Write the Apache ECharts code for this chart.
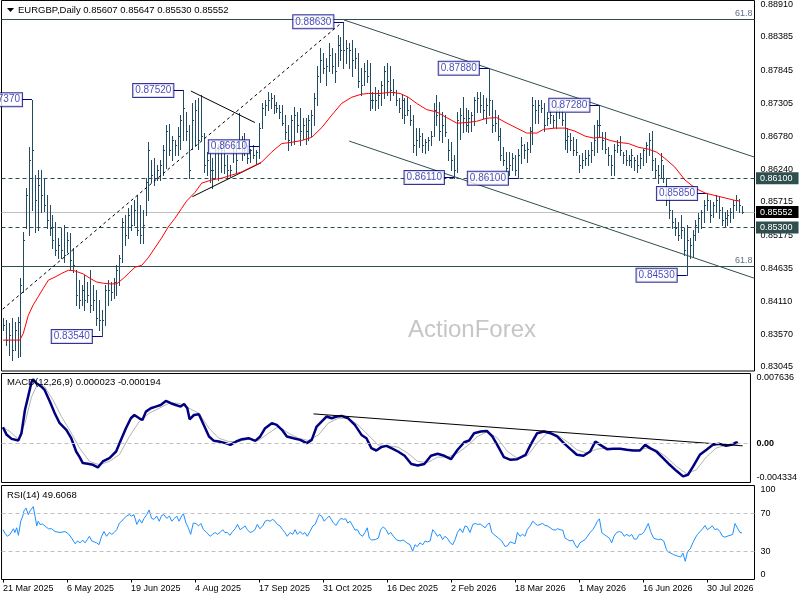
<!DOCTYPE html>
<html><head><meta charset="utf-8">
<script src="https://cdn.jsdelivr.net/npm/echarts@6/dist/echarts.min.js"></script>
<style>html,body{margin:0;padding:0;background:#fff}#c{width:800px;height:600px}</style>
</head><body><div id="c"></div>
<script>
// ---------- DATA ----------
const symbolTitle = 'EURGBP,Daily';
const headerQuote = ['0.85607', '0.85647', '0.85530', '0.85552'];
const macdTitle = 'MACD(12,26,9) 0.000023 -0.000194';
const rsiTitle = 'RSI(14) 49.6068';
const watermark = 'ActionForex';

const highs = [
0.8384,0.8380,0.8375,0.8384,0.8377,0.8385,0.8448,0.8523,0.8594,0.8660,
0.8737,0.8615,0.8623,0.8623,0.8610,0.8582,0.8566,0.8550,0.8539,0.8513,
0.8529,0.8534,0.8523,0.8521,0.8497,0.8461,0.8445,0.8437,0.8453,0.8442,
0.8461,0.8437,0.8429,0.8413,0.8397,0.8437,0.8445,0.8442,0.8448,0.8469,
0.8485,0.8545,0.8550,0.8561,0.8566,0.8574,0.8582,0.8566,0.8558,0.8610,
0.8668,0.8639,0.8642,0.8631,0.8639,0.8663,0.8696,0.8697,0.8679,0.8671,
0.8692,0.8712,0.8752,0.8717,0.8696,0.8731,0.8736,0.8739,0.8744,0.8683,
0.8652,0.8652,0.8642,0.8668,0.8666,0.8670,0.8671,0.8647,0.8631,0.8671,
0.8668,0.8715,0.8679,0.8683,0.8663,0.8658,0.8663,0.8655,0.8700,0.8731,
0.8736,0.8749,0.8747,0.8744,0.8733,0.8728,0.8728,0.8712,0.8696,0.8712,
0.8725,0.8717,0.8723,0.8708,0.8708,0.8712,0.8720,0.8747,0.8792,0.8820,
0.8813,0.8804,0.8828,0.8820,0.8813,0.8841,0.8838,0.8863,0.8833,0.8828,
0.8833,0.8820,0.8813,0.8788,0.8797,0.8801,0.8797,0.8749,0.8757,0.8752,
0.8768,0.8792,0.8796,0.8792,0.8771,0.8752,0.8739,0.8744,0.8739,0.8741,
0.8728,0.8712,0.8691,0.8691,0.8683,0.8674,0.8676,0.8687,0.8731,0.8744,
0.8733,0.8717,0.8712,0.8674,0.8668,0.8647,0.8717,0.8723,0.8741,0.8723,
0.8720,0.8717,0.8741,0.8749,0.8749,0.8744,0.8739,0.8788,0.8736,0.8720,
0.8712,0.8691,0.8660,0.8652,0.8652,0.8650,0.8647,0.8658,0.8676,0.8666,
0.8668,0.8692,0.8741,0.8736,0.8736,0.8736,0.8731,0.8717,0.8720,0.8712,
0.8736,0.8733,0.8720,0.8715,0.8691,0.8683,0.8676,0.8674,0.8647,0.8650,
0.8655,0.8655,0.8668,0.8696,0.8704,0.8728,0.8684,0.8684,0.8660,0.8647,
0.8666,0.8671,0.8679,0.8652,0.8655,0.8647,0.8658,0.8644,0.8647,0.8650,
0.8658,0.8668,0.8683,0.8687,0.8642,0.8631,0.8650,0.8631,0.8610,0.8582,
0.8558,0.8545,0.8539,0.8550,0.8529,0.8534,0.8513,0.8526,0.8542,0.8553,
0.8558,0.8574,0.8585,0.8574,0.8571,0.8582,0.8579,0.8563,0.8555,0.8558,
0.8561,0.8574,0.8582,0.8577,0.85647];

const lows = [
0.8364,0.8340,0.8324,0.8316,0.8332,0.8321,0.8322,0.8426,0.8529,0.8518,
0.8558,0.8523,0.8526,0.8555,0.8557,0.8529,0.8518,0.8497,0.8485,0.8481,
0.8481,0.8474,0.8490,0.8461,0.8458,0.8405,0.8400,0.8405,0.8397,0.8409,
0.8393,0.8397,0.8372,0.8364,0.8354,0.8372,0.8405,0.8413,0.8416,0.8421,
0.8437,0.8474,0.8502,0.8513,0.8526,0.8534,0.8518,0.8505,0.8505,0.8550,
0.8574,0.8603,0.8599,0.8607,0.8607,0.8615,0.8626,0.8647,0.8639,0.8647,
0.8647,0.8658,0.8671,0.8671,0.8610,0.8658,0.8663,0.8658,0.8671,0.8620,
0.8615,0.8603,0.8594,0.8610,0.8607,0.8620,0.8618,0.8610,0.8613,0.8636,
0.8620,0.8658,0.8639,0.8647,0.8634,0.8636,0.8642,0.8634,0.8642,0.8691,
0.8712,0.8720,0.8723,0.8715,0.8717,0.8707,0.8696,0.8674,0.8655,0.8663,
0.8666,0.8684,0.8663,0.8674,0.8666,0.8671,0.8679,0.8696,0.8728,0.8765,
0.8780,0.8760,0.8784,0.8780,0.8765,0.8792,0.8801,0.8789,0.8797,0.8789,
0.8776,0.8788,0.8757,0.8744,0.8760,0.8765,0.8720,0.8723,0.8720,0.8723,
0.8728,0.8739,0.8744,0.8736,0.8744,0.8728,0.8717,0.8707,0.8700,0.8712,
0.8696,0.8652,0.8647,0.8660,0.8652,0.8650,0.8655,0.8663,0.8679,0.8696,
0.8671,0.8668,0.8679,0.8639,0.8623,0.8611,0.8620,0.8674,0.8684,0.8687,
0.8684,0.8687,0.8696,0.8717,0.8717,0.8707,0.8700,0.8712,0.8684,0.8687,
0.8671,0.8639,0.8631,0.8620,0.8615,0.8623,0.8615,0.8610,0.8634,0.8642,
0.8636,0.8652,0.8666,0.8699,0.8700,0.8717,0.8687,0.8696,0.8700,0.8692,
0.8691,0.8707,0.8696,0.8658,0.8652,0.8655,0.8647,0.8647,0.8620,0.8626,
0.8631,0.8631,0.8636,0.8647,0.8652,0.8679,0.8658,0.8650,0.8631,0.8615,
0.8615,0.8652,0.8647,0.8634,0.8631,0.8631,0.8628,0.8623,0.8620,0.8626,
0.8631,0.8636,0.8647,0.8623,0.8610,0.8602,0.8610,0.8603,0.8566,0.8545,
0.8529,0.8518,0.8510,0.8513,0.8485,0.8453,0.8481,0.8482,0.8510,0.8523,
0.8529,0.8539,0.8558,0.8539,0.8547,0.8555,0.8545,0.8534,0.8532,0.8534,
0.8539,0.8545,0.8558,0.8555,0.85530];

const closes = [
0.8372,0.8348,0.8356,0.8332,0.8364,0.8377,0.8437,0.8510,0.8582,0.8639,
0.8655,0.8574,0.8599,0.8582,0.8566,0.8542,0.8529,0.8510,0.8494,0.8502,
0.8494,0.8485,0.8510,0.8477,0.8469,0.8421,0.8413,0.8429,0.8413,0.8421,
0.8405,0.8413,0.8384,0.8380,0.8380,0.8429,0.8429,0.8426,0.8442,0.8461,
0.8481,0.8539,0.8518,0.8550,0.8534,0.8558,0.8526,0.8518,0.8534,0.8603,
0.8655,0.8615,0.8610,0.8623,0.8631,0.8655,0.8687,0.8655,0.8671,0.8663,
0.8679,0.8704,0.8723,0.8687,0.8623,0.8704,0.8720,0.8671,0.8679,0.8631,
0.8639,0.8623,0.8623,0.8655,0.8658,0.8655,0.8631,0.8623,0.8623,0.8663,
0.8639,0.8671,0.8663,0.8655,0.8642,0.8655,0.8647,0.8652,0.8691,0.8723,
0.8728,0.8736,0.8739,0.8728,0.8723,0.8717,0.8700,0.8684,0.8671,0.8704,
0.8712,0.8696,0.8687,0.8696,0.8687,0.8704,0.8712,0.8739,0.8776,0.8801,
0.8788,0.8792,0.8809,0.8792,0.8784,0.8825,0.8817,0.8817,0.8820,0.8817,
0.8801,0.8804,0.8768,0.8760,0.8784,0.8776,0.8736,0.8736,0.8736,0.8744,
0.8760,0.8784,0.8768,0.8752,0.8749,0.8736,0.8723,0.8736,0.8712,0.8720,
0.8704,0.8663,0.8671,0.8679,0.8663,0.8668,0.8671,0.8679,0.8720,0.8712,
0.8687,0.8696,0.8684,0.8655,0.8639,0.8623,0.8704,0.8712,0.8707,0.8696,
0.8707,0.8712,0.8736,0.8739,0.8728,0.8720,0.8728,0.8736,0.8696,0.8700,
0.8679,0.8647,0.8639,0.8626,0.8631,0.8642,0.8623,0.8647,0.8663,0.8655,
0.8658,0.8687,0.8728,0.8720,0.8728,0.8723,0.8696,0.8707,0.8712,0.8704,
0.8720,0.8723,0.8704,0.8671,0.8679,0.8671,0.8655,0.8652,0.8631,0.8639,
0.8642,0.8647,0.8655,0.8671,0.8696,0.8696,0.8671,0.8658,0.8647,0.8631,
0.8655,0.8663,0.8655,0.8647,0.8639,0.8639,0.8647,0.8639,0.8631,0.8642,
0.8655,0.8663,0.8671,0.8639,0.8623,0.8615,0.8639,0.8610,0.8574,0.8558,
0.8539,0.8529,0.8518,0.8526,0.8494,0.8510,0.8502,0.8518,0.8534,0.8545,
0.8555,0.8566,0.8574,0.8550,0.8566,0.8574,0.8558,0.8542,0.8545,0.8550,
0.8555,0.8566,0.8574,0.8566,0.85552];

// moving average (red), [bar index, price]
const maPoints = [[0,0.8348],[5.8,0.8348],[7,0.8359],[8.7,0.8388],[10.4,0.8405],[12.1,0.8418],[13.9,0.8432],[15.6,0.8445],[17.9,0.8450],[20.2,0.8456],[22.5,0.8461],[24.7,0.8460],[27.6,0.8455],[29.9,0.8448],[32.2,0.8442],[34.5,0.8440],[36.8,0.8439],[39.1,0.8439],[41.4,0.8448],[43.6,0.8458],[45.4,0.8466],[47.7,0.8469],[49.9,0.8481],[52.2,0.8497],[54.5,0.8513],[56.8,0.8531],[59.1,0.8545],[61.4,0.8561],[63.1,0.8573],[66.0,0.8587],[68.3,0.8602],[71.7,0.8607],[75.2,0.8610],[78.6,0.8615],[82.0,0.8620],[85.5,0.8628],[88.9,0.8636],[92.3,0.8652],[95.8,0.8666],[99.2,0.8668],[102.7,0.8671],[106.1,0.8676],[109.6,0.8692],[113.0,0.8712],[116.4,0.8731],[119.9,0.8741],[123.3,0.8746],[125.6,0.8747],[129.6,0.8747],[133.0,0.8749],[136.5,0.8747],[139.3,0.8741],[142.2,0.8731],[145.6,0.8721],[149.1,0.8717],[152.5,0.8708],[156.0,0.8699],[159.4,0.8700],[162.8,0.8702],[166.3,0.8707],[169.7,0.8708],[173.2,0.8699],[176.6,0.8691],[180.0,0.8683],[183.5,0.8683],[185.8,0.8689],[189.8,0.8691],[193.2,0.8691],[196.6,0.8686],[200.1,0.8678],[202.9,0.8675],[205.8,0.8676],[208.7,0.8671],[211.5,0.8668],[215.0,0.8666],[218.4,0.8660],[221.8,0.8657],[224.7,0.8652],[227.5,0.8642],[230.9,0.8628],[234.4,0.8607],[237.9,0.8594],[241.3,0.8586],[244.7,0.8582],[248.2,0.8578],[251.6,0.8574],[253.3,0.8573]];

const macdMain = [[0,0.00174],[1.3,0.00090],[3.0,0.00046],[5.3,0.00028],[6.4,0.00108],[7.6,0.00363],[8.7,0.00510],[9.9,0.00674],[10.4,0.00699],[11.6,0.00656],[13.3,0.00619],[14.4,0.00583],[16.2,0.00455],[17.9,0.00327],[19.6,0.00218],[21.9,0.00145],[23.6,0.00053],[25.3,-0.00093],[26.5,-0.00155],[27.6,-0.00220],[29.3,-0.00228],[31.1,-0.00239],[32.8,-0.00268],[34.5,-0.00202],[36.8,-0.00166],[39.1,-0.00093],[40.8,0.00035],[42.5,0.00163],[44.2,0.00272],[45.4,0.00308],[47.1,0.00272],[48.2,0.00254],[49.4,0.00345],[51.1,0.00382],[52.8,0.00400],[54.5,0.00418],[56.3,0.00462],[58.0,0.00437],[59.7,0.00418],[61.4,0.00400],[62.6,0.00429],[63.7,0.00382],[64.5,0.00261],[66.0,0.00308],[67.7,0.00316],[69.4,0.00199],[71.2,0.00072],[72.9,0.00024],[74.6,0.00017],[76.9,-0.00001],[78.6,-0.00020],[80.6,0.00017],[82.6,0.00042],[84.9,0.00053],[87.2,0.00024],[88.9,0.00072],[90.6,0.00163],[92.9,0.00218],[94.6,0.00199],[96.4,0.00145],[98.1,0.00072],[100.4,0.00053],[102.7,0.00035],[105.0,-0.00001],[106.7,0.00035],[108.4,0.00181],[110.1,0.00236],[111.8,0.00291],[113.6,0.00272],[115.3,0.00291],[117.0,0.00298],[119.3,0.00272],[121.6,0.00199],[123.9,0.00089],[125.6,0.00053],[127.3,-0.00056],[129.0,-0.00082],[130.7,-0.00045],[132.5,-0.00031],[134.2,-0.00056],[136.5,-0.00093],[138.8,-0.00140],[141.1,-0.00231],[143.3,-0.00246],[145.6,-0.00231],[147.9,-0.00140],[150.2,-0.00118],[152.5,-0.00140],[154.8,-0.00177],[157.1,-0.00074],[159.4,0.00009],[161.1,0.00028],[162.8,0.00108],[165.1,0.00126],[167.2,0.00133],[169.1,0.00072],[170.8,-0.00020],[173.1,-0.00155],[175.4,-0.00184],[177.7,-0.00177],[180.6,-0.00129],[182.3,-0.00020],[184.6,0.00108],[186.9,0.00126],[189.2,0.00108],[191.5,0.00072],[193.8,-0.00001],[196.1,-0.00067],[198.3,-0.00129],[200.6,-0.00140],[202.9,-0.00093],[204.7,0.00017],[206.4,-0.00020],[208.7,-0.00067],[211.0,-0.00064],[213.3,-0.00064],[215.5,-0.00074],[217.8,-0.00082],[220.1,-0.00082],[221.9,-0.00020],[223.6,-0.00056],[225.8,-0.00093],[228.1,-0.00166],[230.4,-0.00239],[232.7,-0.00305],[235.0,-0.00366],[236.7,-0.00348],[238.5,-0.00257],[240.8,-0.00129],[243.1,-0.00074],[245.3,-0.00020],[247.6,-0.00009],[249.9,-0.00031],[251.6,-0.00020],[253.4,0.00006],[254,0.00002]];

const macdSignal = [[0,0.00174],[2.4,0.00126],[5.3,0.00042],[7.6,0.00218],[9.9,0.00510],[12.1,0.00656],[14.4,0.00619],[17.3,0.00473],[20.2,0.00291],[23.0,0.00145],[26.5,-0.00056],[29.9,-0.00202],[33.3,-0.00239],[36.8,-0.00202],[40.2,-0.00129],[43.7,0.00072],[47.1,0.00235],[50.5,0.00327],[54.0,0.00382],[57.4,0.00437],[60.8,0.00437],[64.3,0.00382],[67.7,0.00327],[71.2,0.00163],[74.6,0.00053],[78.0,0.00017],[81.5,0.00017],[84.9,0.00042],[88.3,0.00028],[91.8,0.00108],[95.2,0.00181],[98.7,0.00108],[102.1,0.00053],[105.5,0.00028],[109.0,0.00089],[112.4,0.00218],[115.9,0.00272],[119.3,0.00272],[122.7,0.00199],[126.2,0.00089],[129.6,-0.00020],[133.0,-0.00031],[136.5,-0.00045],[139.9,-0.00111],[143.3,-0.00202],[146.8,-0.00213],[150.2,-0.00155],[153.7,-0.00155],[157.1,-0.00111],[160.5,-0.00031],[164.0,0.00072],[167.4,0.00126],[170.9,0.00053],[174.3,-0.00093],[177.7,-0.00166],[181.2,-0.00140],[184.6,-0.00001],[188.1,0.00108],[191.5,0.00089],[194.9,0.00017],[198.3,-0.00074],[201.8,-0.00111],[205.2,-0.00067],[208.7,-0.00056],[212.1,-0.00064],[215.5,-0.00067],[219.0,-0.00082],[222.4,-0.00056],[225.8,-0.00074],[229.3,-0.00155],[232.7,-0.00257],[236.2,-0.00337],[239.6,-0.00294],[243.0,-0.00155],[246.4,-0.00056],[249.9,-0.00020],[253.3,-0.00020],[254,-0.00019]];

const rsiPoints = [[0,53],[0.7,49],[1.5,46],[2.4,48],[3.0,46],[3.6,54],[4.1,50],[4.7,55],[5.3,47],[6.1,62],[6.8,67.5],[7.2,73],[7.9,76],[8.7,69],[9.3,73],[9.9,75],[10.4,77.5],[11.0,67.5],[11.6,57],[12.1,62],[12.7,58.6],[13.6,59],[14.4,57],[15.6,54],[16.7,54],[17.9,51],[19.6,50],[21.3,51],[22.5,48.6],[23.6,44],[24.8,38],[25.6,41],[26.5,39],[27.4,42],[28.2,39],[29.0,42.5],[29.7,46],[30.5,41],[31.3,40],[32.2,39],[33.0,37],[33.9,46],[34.7,51],[35.6,46],[36.6,50],[37.4,48],[38.2,50],[39.1,53],[40.0,60],[40.8,62],[41.6,65],[42.5,67.5],[43.4,69],[44.2,67.5],[45.0,69],[46.0,58.6],[46.9,64],[47.7,60],[48.5,65],[49.4,69],[50.2,74],[51.1,65],[51.9,64],[52.8,67.5],[53.7,62],[54.5,68],[55.3,69],[56.3,65],[57.2,67.5],[58.0,62],[58.8,64.6],[59.7,67.5],[60.5,62],[61.4,67.5],[62.0,70],[62.9,60],[63.7,55],[64.5,48],[65.4,60],[66.3,59.6],[67.2,57],[68.0,59.6],[68.9,53],[70.0,50],[71.2,46],[72.0,48],[72.9,50],[73.7,48],[74.6,50],[75.5,53],[76.3,50],[77.1,50],[78.0,47],[78.9,51],[79.8,54],[80.6,58.6],[81.5,53],[82.4,55],[83.2,57],[84.0,53],[84.9,50],[85.8,51],[86.6,53],[87.4,58.6],[88.3,54],[89.3,57],[90.1,62],[90.9,63],[91.8,62],[92.7,64],[93.5,62],[94.3,58.6],[95.2,57],[96.1,53],[96.9,50],[97.7,46],[98.7,50],[99.6,48],[100.4,53],[101.2,48],[102.1,51],[103.0,48],[103.8,50],[104.6,46],[105.5,51],[106.5,57],[107.3,58.6],[108.1,65],[108.7,69],[109.5,67.5],[110.4,62],[111.3,65],[112.1,67.5],[112.8,64],[113.6,60],[114.5,57.5],[115.3,62],[116.1,65],[117.0,64],[117.8,64.6],[118.5,60],[119.3,62],[120.2,57],[121.0,52.5],[121.8,53],[122.7,48],[123.6,46],[124.4,50],[125.2,55],[125.9,44],[126.7,42],[127.9,42.5],[129.0,44],[129.8,53],[130.7,56],[131.7,53],[132.5,48],[133.3,50],[134.2,46],[135.3,42],[136.5,41],[137.6,42],[138.8,39],[139.9,37],[140.8,30],[141.6,37],[142.4,35],[143.3,39],[144.3,37],[145.1,41],[145.9,40],[146.8,41],[147.7,53],[148.5,50],[149.3,46],[150.2,48],[151.1,42.5],[151.9,46],[152.7,44],[153.7,39],[154.6,37],[155.4,42.5],[156.2,50],[157.1,54],[158.0,50],[158.8,57],[159.6,56],[160.5,50],[161.5,58.6],[162.3,59.6],[163.1,58.6],[164.0,59],[164.9,57],[165.7,55],[166.5,58.6],[167.2,60],[168.0,50],[169.1,47],[170.3,44],[171.4,41],[172.6,35],[173.4,36],[174.3,40],[175.2,39],[176.0,38],[176.8,50],[177.7,46],[178.6,48],[179.4,46],[180.2,53],[181.2,57],[182.1,62],[182.9,59.6],[183.7,57.5],[184.6,58.6],[185.5,59.6],[186.3,57.5],[187.1,57],[188.1,55],[189.0,53],[189.8,52.5],[190.6,54],[191.5,53],[192.4,52.5],[193.2,44],[194.0,42.5],[194.9,41],[195.8,42],[196.6,37],[197.4,33.6],[198.3,39],[199.3,41],[200.1,42.5],[200.9,46],[201.8,50],[202.7,53],[203.5,57],[204.3,62],[205.0,64.6],[205.8,50],[206.6,48],[207.5,46],[208.4,44],[209.2,39],[210.0,46],[210.9,50],[211.9,51],[212.7,50],[213.5,46],[214.4,48],[215.3,46],[216.1,48],[216.9,43],[217.8,43],[218.7,48],[219.5,48],[220.4,51],[221.0,53],[221.8,59.6],[222.6,51],[223.6,44],[224.5,43],[225.3,42.5],[226.1,43],[227.1,41],[228.0,32],[228.7,29],[229.6,28],[230.5,26.4],[231.4,25.4],[232.2,24.6],[233.0,24],[233.7,28],[234.5,19.3],[235.3,30],[236.2,32.5],[237.1,39],[237.9,44],[238.7,48],[239.6,51],[240.5,54],[241.3,57.5],[242.1,53],[243.0,55],[243.8,57],[244.7,53],[245.5,54],[246.4,51],[247.3,46],[248.1,45],[248.9,46],[249.9,47],[250.8,48],[251.6,59.6],[252.4,55],[253.3,50],[254,49.6]];

// axis ticks
const priceTicks = [0.88910,0.88385,0.87845,0.87305,0.86780,0.86240,0.85715,0.85175,0.84635,0.84110,0.83570,0.83045];
const macdTicks = [-0.004334, 0, 0.007636];
const rsiTicks = [0, 30, 70, 100];
const dateLabels = ['21 Mar 2025','6 May 2025','19 Jun 2025','4 Aug 2025','17 Sep 2025','31 Oct 2025','16 Dec 2025','2 Feb 2026','18 Mar 2026','1 May 2026','16 Jun 2026','30 Jul 2026'];
const dateLabelIndex = [0,22,44,66,88,110,132,154,176,198,220,242];

// price annotations [bar index, price, text]
const annotations = [[10,0.8737,'0.87370'],[34,0.8354,'0.83540'],[62,0.8752,'0.87520'],[88,0.8661,'0.86610'],[117,0.8863,'0.88630'],[155,0.8611,'0.86110'],[167,0.8788,'0.87880'],[177,0.8610,'0.86100'],[205,0.8728,'0.87280'],[235,0.8453,'0.84530'],[242,0.8585,'0.85850']];

// horizontal levels
const fibLevels = [0.88679, 0.84676];
const dashedLevels = [0.8610, 0.8530];
const lastPrice = 0.85552;

// trend lines [[index, price], [index, price]]
const channelUpper = [[117.2,0.8866],[258.3,0.8644]];
const channelLower = [[119.0,0.8670],[258.3,0.8448]];
const risingLine = [[-0.1,0.8398],[116.5,0.8862]];
const triangleUpper = [[64.6,0.8751],[86.6,0.8700]];
const triangleLower = [[65.1,0.8580],[88.7,0.8635]];
const macdTrend = [[107.3,0.00320],[255.6,-0.00031]];

// ---------- CHART ----------
const FONT = 'Liberation Sans, Arial, sans-serif';
const barColor = '#214c63';
const X_MIN = -0.5, X_MAX = 258.3;
const GL = 1.5, GW = 753;
const pxPerBar = GW / (X_MAX - X_MIN);
const LABEL_DIST = 10;

const chart = echarts.init(document.getElementById('c'), null, {renderer: 'canvas'});

function xAxisCfg(idx, showLabels) {
  return {
    type: 'value', gridIndex: idx, min: X_MIN, max: X_MAX,
    axisLine: {show: false}, splitLine: {show: false},
    axisTick: showLabels ? {show: true, customValues: dateLabelIndex, length: 3, lineStyle: {color: '#000'}} : {show: false},
    axisLabel: showLabels ? {
      show: true, customValues: dateLabelIndex, align: 'left', margin: 5,
      fontSize: 9, fontFamily: FONT, color: '#000',
      formatter: v => dateLabels[dateLabelIndex.indexOf(Math.round(v))] || ''
    } : {show: false}
  };
}

function renderBar(params, api) {
  const i = api.value(0);
  const hi = api.coord([i, api.value(1)]);
  const lo = api.coord([i, api.value(2)]);
  const cl = api.coord([i, api.value(3)]);
  const x = Math.round(hi[0]) + 0.5;
  const yc = Math.round(cl[1]) + 0.5;
  return {
    type: 'group',
    children: [
      {type: 'line', shape: {x1: x, y1: Math.round(hi[1]), x2: x, y2: Math.round(lo[1]) + 1}, style: {stroke: barColor, lineWidth: 1}},
      {type: 'line', shape: {x1: x, y1: yc, x2: x + 1.5, y2: yc}, style: {stroke: barColor, lineWidth: 1}}
    ]
  };
}

function seg(points, color, width, type, xi, yi) {
  return {
    type: 'line', xAxisIndex: xi || 0, yAxisIndex: yi || 0, data: points, showSymbol: false, silent: true,
    lineStyle: {color: color, width: width, type: type || 'solid'}, z: 4, animation: false
  };
}

const boxLabel = (txt, bg) => ({
  show: true, position: 'end', distance: 1.5, formatter: txt,
  backgroundColor: bg, color: '#fff', fontSize: 9, fontFamily: FONT,
  padding: [2, 6, 1, 4]
});

const option = {
  animation: false,
  backgroundColor: '#fff',
  grid: [
    {left: GL, top: 0, width: GW, height: 371, show: true, borderColor: '#000', borderWidth: 1, backgroundColor: 'transparent'},
    {left: GL, top: 373.5, width: GW, height: 109, show: true, borderColor: '#000', borderWidth: 1, backgroundColor: 'transparent'},
    {left: GL, top: 485.5, width: GW, height: 94, show: true, borderColor: '#000', borderWidth: 1, backgroundColor: 'transparent'}
  ],
  xAxis: [xAxisCfg(0, false), xAxisCfg(1, false), xAxisCfg(2, true)],
  yAxis: [
    {type: 'value', gridIndex: 0, position: 'right', min: 0.82980, max: 0.88975,
     axisLine: {show: false}, axisTick: {show: false}, splitLine: {show: false},
     axisLabel: {customValues: priceTicks, formatter: v => v.toFixed(5), fontSize: 9, fontFamily: FONT, color: '#000', margin: 6}},
    {type: 'value', gridIndex: 1, position: 'right', min: -0.004334, max: 0.007636,
     axisLine: {show: false}, axisTick: {show: false}, splitLine: {show: false},
     axisLabel: {customValues: macdTicks, formatter: v => (Math.abs(v) < 1e-9 ? '{b|0.00}' : v.toFixed(6)),
       rich: {b: {fontWeight: 'bold', fontSize: 9, fontFamily: FONT, color: '#000'}},
       verticalAlignMaxLabel: 'top', verticalAlignMinLabel: 'bottom',
       fontSize: 9, fontFamily: FONT, color: '#000', margin: 6}},
    {type: 'value', gridIndex: 2, position: 'right', min: 0, max: 100,
     axisLine: {show: false}, axisTick: {show: false}, splitLine: {show: false},
     axisLabel: {customValues: rsiTicks, formatter: v => String(v),
       verticalAlignMaxLabel: 'top', verticalAlignMinLabel: 'bottom',
       fontSize: 9, fontFamily: FONT, color: '#000', margin: 6}}
  ],
  graphic: [
    {type: 'text', left: 408, top: 318, z: 0, silent: true,
     style: {text: watermark, font: '24px ' + FONT, fill: '#c6c6c6'}},
    {type: 'polygon', z: 100, silent: true, shape: {points: [[7, 8], [14, 8], [10.5, 12]]}, style: {fill: '#000'}},
    {type: 'text', left: 18, top: 5, z: 100, silent: true,
     style: {text: symbolTitle + ' ' + headerQuote.join(' '), font: '9.5px ' + FONT, fill: '#000'}},
    {type: 'text', left: 7, top: 377, z: 100, silent: true,
     style: {text: macdTitle, font: '9.5px ' + FONT, fill: '#000'}},
    {type: 'text', left: 7, top: 490, z: 100, silent: true,
     style: {text: rsiTitle, font: '9.5px ' + FONT, fill: '#000'}}
  ],
  series: [
    {
      type: 'custom', xAxisIndex: 0, yAxisIndex: 0, silent: true, z: 2, clip: true,
      renderItem: renderBar,
      encode: {x: 0, y: [1, 2, 3]},
      data: highs.map((h, i) => [i, h, lows[i], closes[i]])
    },
    {
      type: 'line', xAxisIndex: 0, yAxisIndex: 0, data: maPoints, showSymbol: false, silent: true, z: 5,
      lineStyle: {color: '#ff0000', width: 1},
      markLine: {
        silent: true, symbol: 'none', animation: false, z: 1, precision: 6,
        data: [
          {yAxis: fibLevels[0], lineStyle: {color: '#2f4f4f', width: 1, type: 'solid'},
           label: {show: true, position: 'insideEndTop', distance: [2, 1], formatter: '61.8', color: '#5f7282', fontSize: 9, fontFamily: FONT}},
          {yAxis: fibLevels[1], lineStyle: {color: '#2f4f4f', width: 1, type: 'solid'},
           label: {show: true, position: 'insideEndTop', distance: [2, 1], formatter: '61.8', color: '#5f7282', fontSize: 9, fontFamily: FONT}},
          {yAxis: lastPrice, lineStyle: {color: '#c0c0c0', width: 1, type: 'solid'},
           label: boxLabel(lastPrice.toFixed(5), '#000')},
          {yAxis: dashedLevels[0], lineStyle: {color: '#2f4f4f', width: 1, type: [4, 3]},
           label: boxLabel(dashedLevels[0].toFixed(5), '#2f4f4f')},
          {yAxis: dashedLevels[1], lineStyle: {color: '#2f4f4f', width: 1, type: [4, 3]},
           label: boxLabel(dashedLevels[1].toFixed(5), '#2f4f4f')}
        ]
      }
    },
    seg(channelUpper, '#2f4f4f', 1),
    seg(channelLower, '#2f4f4f', 1),
    seg(risingLine, '#000', 1, [3, 3]),
    seg(triangleUpper, '#000', 1),
    seg(triangleLower, '#000', 1),
    {
      type: 'scatter', xAxisIndex: 0, yAxisIndex: 0, silent: true, z: 8, symbolSize: 0,
      itemStyle: {color: 'transparent'},
      data: annotations.map(a => ({value: [a[0], a[1]], name: a[2]})),
      label: {
        show: true, position: 'left', distance: LABEL_DIST, formatter: p => p.name,
        backgroundColor: '#fff', borderColor: '#000080', borderWidth: 1,
        padding: [2, 2, 1, 2], color: '#1a1aa8', fontSize: 10, fontFamily: FONT
      },
      markLine: {
        silent: true, symbol: 'none', animation: false, precision: 6,
        lineStyle: {color: '#000080', width: 1, type: 'solid'}, label: {show: false},
        data: annotations.map(a => [{coord: [a[0] - LABEL_DIST / pxPerBar, a[1]]}, {coord: [a[0], a[1]]}])
      }
    },
    {
      type: 'line', xAxisIndex: 1, yAxisIndex: 1, data: macdSignal, showSymbol: false, silent: true, z: 3,
      lineStyle: {color: '#b4b4b4', width: 1},
      markLine: {silent: true, symbol: 'none', animation: false, label: {show: false}, precision: 6,
        data: [{yAxis: 0, lineStyle: {color: '#c0c0c0', width: 1, type: [4, 3]}}]}
    },
    {
      type: 'line', xAxisIndex: 1, yAxisIndex: 1, data: macdMain, showSymbol: false, silent: true, z: 4,
      lineStyle: {color: '#000080', width: 2.5}
    },
    seg(macdTrend, '#000', 1, 'solid', 1, 1),
    {
      type: 'line', xAxisIndex: 2, yAxisIndex: 2, data: rsiPoints, showSymbol: false, silent: true, z: 4,
      lineStyle: {color: '#1e90ff', width: 1},
      markLine: {silent: true, symbol: 'none', animation: false, label: {show: false}, precision: 6,
        data: [{yAxis: 70, lineStyle: {color: '#c0c0c0', width: 1, type: [4, 3]}},
               {yAxis: 30, lineStyle: {color: '#c0c0c0', width: 1, type: [4, 3]}}]}
    }
  ]
};
chart.setOption(option);
</script>
</body></html>
